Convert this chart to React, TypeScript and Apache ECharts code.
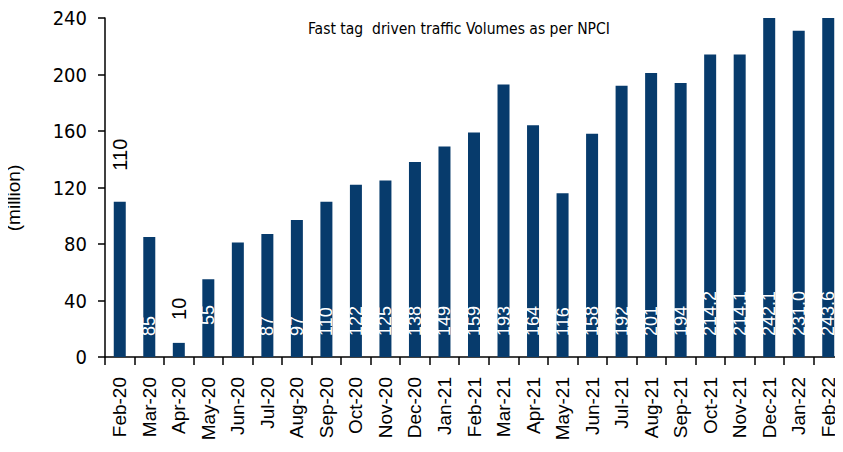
import React, { useEffect, useRef } from "react";
import * as echarts from "echarts";

const categories = [
  "Feb-20", "Mar-20", "Apr-20", "May-20", "Jun-20", "Jul-20", "Aug-20", "Sep-20",
  "Oct-20", "Nov-20", "Dec-20", "Jan-21", "Feb-21", "Mar-21", "Apr-21", "May-21",
  "Jun-21", "Jul-21", "Aug-21", "Sep-21", "Oct-21", "Nov-21", "Dec-21", "Jan-22", "Feb-22",
];
const volumes = [
  110, 85, 10, 55, 81, 87, 97, 110, 122, 125, 138, 149, 159, 193, 164, 116,
  158, 192, 201, 194, 214.2, 214.1, 242.1, 231.0, 243.6,
];
const valueLabels = [
  "110", "85", "10", "55", "", "87", "97", "110", "122", "125", "138", "149", "159", "193", "164", "116",
  "158", "192", "201", "194", "214.2", "214.1", "242.1", "231.0", "243.6",
];
// which labels sit above the bar in black instead of inside in white
const outsideLabel = [true, false, true, false, false, false, false, false, false, false, false, false, false, false, false, false, false, false, false, false, false, false, false, false, false];
const yTicks = { min: 0, max: 240, interval: 40 };
const title = "Fast tag  driven traffic Volumes as per NPCI";
const yName = "(million)";

const FONT = "'Liberation Sans', Arial, sans-serif";
const NARROW = "'Liberation Sans Narrow', 'Arial Narrow', 'DejaVu Sans Condensed', 'Liberation Sans', sans-serif";
const BAR = "#073b6c";

export default function App() {
  const ref = useRef<HTMLDivElement>(null);
  useEffect(() => {
    if (!ref.current) return;
    const chart = echarts.init(ref.current, null, { renderer: "svg" });
    const data = volumes.map((v, i) => {
      const txt = valueLabels[i];
      if (!txt) return { value: v, label: { show: false } };
      if (outsideLabel[i]) {
        return {
          value: v,
          label: {
            show: true,
            position: "top",
            rotate: 90,
            align: "left",
            verticalAlign: "middle",
            distance: i === 0 ? 31 : 23,
            color: "#000",
            fontSize: 20,
            fontFamily: FONT,
            formatter: () => txt,
          },
        };
      }
      return {
        value: v,
        label: {
          show: true,
          position: "insideBottom",
          rotate: 90,
          align: "left",
          verticalAlign: "middle",
          distance: i === 3 ? 32 : 21,
          color: "#ffffff",
          fontSize: 18,
          fontFamily: FONT,
          formatter: () => txt,
        },
      };
    });
    chart.setOption({
      animation: false,
      title: {
        text: title,
        left: 303,
        top: 16,
        textStyle: { fontSize: 15.5, fontWeight: "normal", color: "#000", fontFamily: NARROW },
      },
      grid: { left: 105, top: 18, width: 739, bottom: 95, containLabel: false },
      graphic: [
        {
          type: "text",
          x: 13,
          y: 198,
          rotation: Math.PI / 2,
          style: {
            text: yName,
            fill: "#000",
            fontSize: 19,
            fontFamily: FONT,
            align: "center",
            verticalAlign: "middle",
          },
        },
      ],
      xAxis: {
        type: "category",
        data: categories,
        boundaryGap: true,
        axisLine: { lineStyle: { color: "#000", width: 1.5 } },
        axisTick: { show: true, length: 8, alignWithLabel: false, lineStyle: { color: "#000", width: 1.5 } },
        axisLabel: {
          rotate: 90,
          margin: 20,
          interval: 0,
          color: "#000",
          fontSize: 19,
          fontFamily: FONT,
        },
      },
      yAxis: {
        type: "value",
        min: yTicks.min,
        max: yTicks.max,
        interval: yTicks.interval,
        axisLine: { show: true, lineStyle: { color: "#000", width: 1.5 } },
        axisTick: { show: true, length: 7, lineStyle: { color: "#000", width: 1.5 } },
        splitLine: { show: false },
        axisLabel: { margin: 18, color: "#000", fontSize: 20, fontFamily: NARROW },
      },
      series: [
        {
          type: "bar",
          data,
          barWidth: 12,
          clip: true,
          itemStyle: { color: BAR },
        },
      ],
    });
    return () => chart.dispose();
  }, []);
  return <div ref={ref} style={{ width: 843, height: 452, margin: -8 }} />;
}
